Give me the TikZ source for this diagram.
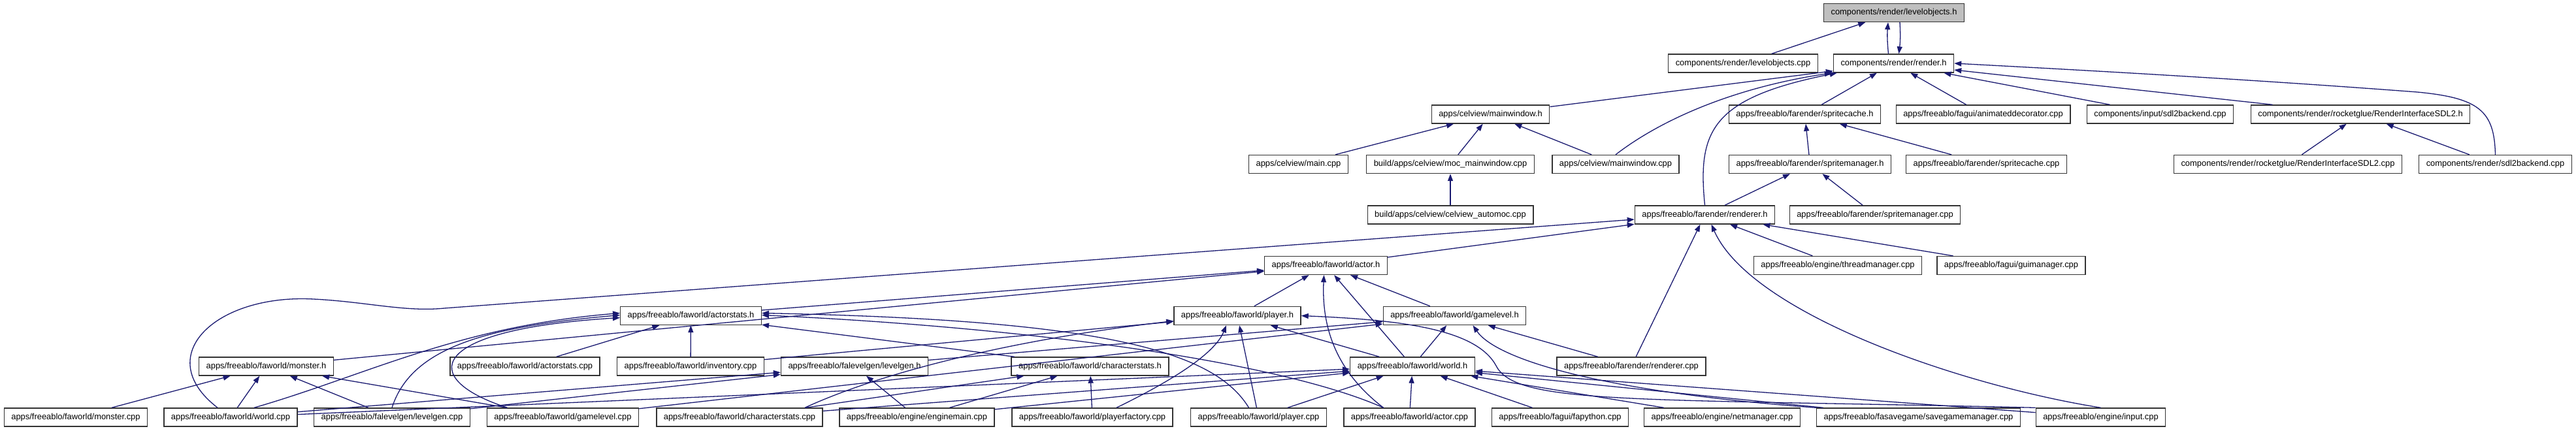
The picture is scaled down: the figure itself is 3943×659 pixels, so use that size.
\documentclass[tikz,border=0pt]{standalone}
\usepackage{fontspec}
\setmainfont{Liberation Sans}
\usepackage{tikz}
\usetikzlibrary{arrows.meta}
\definecolor{edgeblue}{RGB}{25,25,112}

\begin{document}
\begin{tikzpicture}[x=1pt,y=-1pt,
  >={Triangle[length=11pt,width=8pt]},
  file/.style={draw=black!80,line width=1.4pt,fill=white,inner xsep=11pt,
    minimum height=28pt,font=\fontsize{12.9}{15}\selectfont},
  hl/.style={file,fill=black!25},
  dep/.style={->,draw=edgeblue,line width=1.3pt}]
\useasboundingbox (0,0) rectangle (3943,659);

\node[hl] (lobjh) at (2899,19.5) {components/render/levelobjects.h};

\node[file] (lobjc) at (2668,97) {components/render/levelobjects.cpp};
\node[file] (rendh) at (2898.5,97) {components/render/render.h};

\node[file] (mwh) at (2281.5,175) {apps/celview/mainwindow.h};
\node[file] (scache) at (2762.5,175) {apps/freeablo/farender/spritecache.h};
\node[file] (animdec) at (3035.5,175) {apps/freeablo/fagui/animateddecorator.cpp};
\node[file] (insdl) at (3306.5,175) {components/input/sdl2backend.cpp};
\node[file] (rish) at (3613,175) {components/render/rocketglue/RenderInterfaceSDL2.h};

\node[file] (maincpp) at (1987.5,251.5) {apps/celview/main.cpp};
\node[file] (moc) at (2220,251.5) {build/apps/celview/moc\_mainwindow.cpp};
\node[file] (mwc) at (2473,251.5) {apps/celview/mainwindow.cpp};
\node[file] (smgrh) at (2770.5,251.5) {apps/freeablo/farender/spritemanager.h};
\node[file] (scachec) at (3040.5,251.5) {apps/freeablo/farender/spritecache.cpp};
\node[file] (risc) at (3502,251.5) {components/render/rocketglue/RenderInterfaceSDL2.cpp};
\node[file] (rsdl) at (3819.5,251.5) {components/render/sdl2backend.cpp};

\node[file] (automoc) at (2220,329) {build/apps/celview/celview\_automoc.cpp};
\node[file] (rdrh) at (2609.5,329) {apps/freeablo/farender/renderer.h};
\node[file] (smgrc) at (2870,329) {apps/freeablo/farender/spritemanager.cpp};

\node[file] (actorh) at (2029.5,406.5) {apps/freeablo/faworld/actor.h};
\node[file] (thrmgr) at (2813,406.5) {apps/freeablo/engine/threadmanager.cpp};
\node[file] (guimgr) at (3078.5,406.5) {apps/freeablo/fagui/guimanager.cpp};

\node[file] (astath) at (1057.5,483.5) {apps/freeablo/faworld/actorstats.h};
\node[file] (playerh) at (1894,483.5) {apps/freeablo/faworld/player.h};
\node[file] (glevh) at (2226.5,483.5) {apps/freeablo/faworld/gamelevel.h};

\node[file] (monsth) at (407.5,561) {apps/freeablo/faworld/monster.h};
\node[file] (astatc) at (803.5,561) {apps/freeablo/faworld/actorstats.cpp};
\node[file] (invc) at (1057,561) {apps/freeablo/faworld/inventory.cpp};
\node[file] (lgenh) at (1308,561) {apps/freeablo/falevelgen/levelgen.h};
\node[file] (cstath) at (1668.5,561) {apps/freeablo/faworld/characterstats.h};
\node[file] (worldh) at (2162,561) {apps/freeablo/faworld/world.h};
\node[file] (rdrc) at (2497,561) {apps/freeablo/farender/renderer.cpp};

\node[file] (monstc) at (116,639) {apps/freeablo/faworld/monster.cpp};
\node[file] (worldc) at (353,639) {apps/freeablo/faworld/world.cpp};
\node[file] (lgenc) at (600,639) {apps/freeablo/falevelgen/levelgen.cpp};
\node[file] (glevc) at (861.5,639) {apps/freeablo/faworld/gamelevel.cpp};
\node[file] (cstatc) at (1132,639) {apps/freeablo/faworld/characterstats.cpp};
\node[file] (engmain) at (1403.5,639) {apps/freeablo/engine/enginemain.cpp};
\node[file] (pfact) at (1672,639) {apps/freeablo/faworld/playerfactory.cpp};
\node[file] (playerc) at (1926.5,639) {apps/freeablo/faworld/player.cpp};
\node[file] (actorc) at (2157.5,639) {apps/freeablo/faworld/actor.cpp};
\node[file] (fapy) at (2388,639) {apps/freeablo/fagui/fapython.cpp};
\node[file] (netmgr) at (2636,639) {apps/freeablo/engine/netmanager.cpp};
\node[file] (savemgr) at (2936.5,639) {apps/freeablo/fasavegame/savegamemanager.cpp};
\node[file] (inputc) at (3215.5,639) {apps/freeablo/engine/input.cpp};

\draw[dep] (lobjc) to (lobjh);
\draw[dep] ([xshift=-8pt]rendh.north) to[bend left=5] ([xshift=-9pt]lobjh.south);
\draw[dep] ([xshift=9pt]lobjh.south) to[bend left=5] ([xshift=8pt]rendh.north);

\draw[dep] (mwh) to (rendh);
\draw[dep] (mwc.north) .. controls (2540,185) and (2650,135) .. ([xshift=-2pt]rendh.south west);
\draw[dep] (rdrh.north) .. controls (2598,200) and (2620,150) .. ([xshift=6pt]rendh.south west);
\draw[dep] (scache) to (rendh);
\draw[dep] (animdec) to (rendh);
\draw[dep] (insdl) to (rendh);
\draw[dep] (rish) to (rendh);
\draw[dep] (rsdl.north) .. controls (3818,170) and (3795,150) .. (3700,141)
  .. controls (3450,122) and (3200,108) .. (rendh.east);

\draw[dep] (maincpp) to (mwh);
\draw[dep] (moc) to (mwh);
\draw[dep] (mwc) to (mwh);
\draw[dep] (automoc) to (moc);
\draw[dep] (smgrh) to (scache);
\draw[dep] (scachec) to (scache);
\draw[dep] (risc) to (rish);
\draw[dep] (rsdl) to (rish);
\draw[dep] (rdrh) to (smgrh);
\draw[dep] (smgrc) to (smgrh);

\draw[dep] ([xshift=-20pt]worldc.north) .. controls (230,545) and (330,450) .. (480,458)
  .. controls (560,462) and (620,478) .. (680,472) -- ([yshift=-7pt]rdrh.west);
\draw[dep] (actorh) to (rdrh);
\draw[dep] (thrmgr) to (rdrh);
\draw[dep] (guimgr) to (rdrh);
\draw[dep] (rdrc) to (rdrh);
\draw[dep] (inputc.north) .. controls (3000,590) and (2680,480) .. ([xshift=10pt]rdrh.south);

\draw[dep] (monsth) to (actorh);
\draw[dep] (astath) to (actorh);
\draw[dep] (playerh) to (actorh);
\draw[dep] ([xshift=-40pt]actorc.north) .. controls (2060,580) and (2022,520) .. ([xshift=-3pt]actorh.south);
\draw[dep] (worldh) to (actorh);
\draw[dep] (glevh) to (actorh);

\draw[dep] ([xshift=36pt]worldc.north) .. controls (560,575) and (700,500) .. ([yshift=4pt]astath.west);
\draw[dep] (lgenc.north) .. controls (630,530) and (750,500) .. ([yshift=1pt]astath.west);
\draw[dep] ([xshift=-85pt]glevc.north) .. controls (640,580) and (650,505) .. ([yshift=-3pt]astath.west);
\draw[dep] (astatc) to (astath);
\draw[dep] (invc) to (astath);
\draw[dep] (cstath) to (astath);
\draw[dep] ([xshift=-15pt]playerc.north) .. controls (1860,540) and (1700,490) .. ([yshift=4pt]astath.east);
\draw[dep] ([xshift=-40pt]actorc.north) .. controls (1950,550) and (1550,500) .. ([yshift=1pt]astath.east);

\draw[dep] (invc) to (playerh);
\draw[dep] ([xshift=100pt]cstatc.north) .. controls (1350,570) and (1550,520) .. ([yshift=-8pt]playerh.west);
\draw[dep] ([xshift=37pt]pfact.north) .. controls (1800,580) and (1860,540) .. ([xshift=-17pt]playerh.south);
\draw[dep] (playerc) to (playerh);
\draw[dep] (worldh) to (playerh);
\draw[dep] (inputc.north west) .. controls (2500,610) and (2320,620) .. (2290,560)
  .. controls (2260,505) and (2150,490) .. (playerh.east);

\draw[dep] (glevc) to (glevh);
\draw[dep] (lgenh) to (glevh);
\draw[dep] (worldh) to (glevh);
\draw[dep] (rdrc) to (glevh);
\draw[dep] (savemgr.north west) .. controls (2450,600) and (2290,550) .. ([xshift=28pt]glevh.south);

\draw[dep] (monstc) to (monsth);
\draw[dep] (worldc) to (monsth);
\draw[dep] (lgenc) to (monsth);
\draw[dep] (glevc) to (monsth);

\draw[dep] (worldc) to (lgenh);
\draw[dep] (lgenc) to (lgenh);
\draw[dep] (engmain) to (lgenh);

\draw[dep] (cstatc) to (cstath);
\draw[dep] (engmain) to (cstath);
\draw[dep] (pfact) to (cstath);

\draw[dep] (worldc) to (worldh);
\draw[dep] (cstatc) to (worldh);
\draw[dep] (engmain) to (worldh);
\draw[dep] (playerc) to (worldh);
\draw[dep] (actorc) to (worldh);
\draw[dep] (fapy) to (worldh);
\draw[dep] (netmgr) to (worldh);
\draw[dep] (savemgr) to (worldh);
\draw[dep] (inputc) to (worldh);

\end{tikzpicture}
\end{document}
